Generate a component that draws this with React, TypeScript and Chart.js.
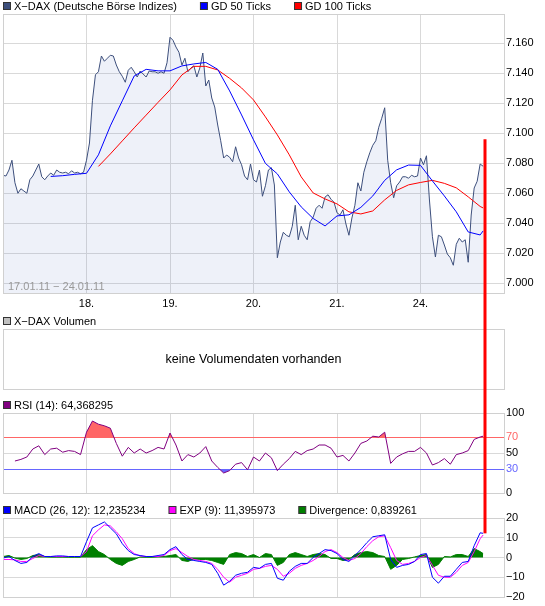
import React, { useEffect, useRef } from 'react';
import { Chart, registerables } from 'chart.js';

Chart.register(...registerables);

// ---------------- data ----------------
const TICKS_PER_DAY = 28;
const LAST_TICK = 161;
const DAY_COUNT = 6;
const dayGridValues = [0, 1, 2, 3, 4, 5, 6];
const dayTickLabels = ['', '18.', '19.', '20.', '21.', '24.', ''];
const dateRange = '17.01.11 \u2212 24.01.11';

const priceLegend = ['X\u2212DAX (Deutsche Börse Indizes)', 'GD 50 Ticks', 'GD 100 Ticks'];
const volumeLegend = 'X\u2212DAX Volumen';
const noVolumeText = 'keine Volumendaten vorhanden';
const rsiLegend = 'RSI (14): 64,368295';
const macdLegend = ['MACD (26, 12): 12,235234', 'EXP (9): 11,395973', 'Divergence: 0,839261'];

const priceTickValues = [7000, 7020, 7040, 7060, 7080, 7100, 7120, 7140, 7160];
const rsiTickValues = [0, 30, 50, 70, 100];
const RSI_HIGH = 70;
const RSI_LOW = 30;
const macdTickValues = [-20, -10, 0, 10, 20];
const PRICE_MIN = 6993.5;
const PRICE_MAX = 7179.5;
const MARKER_PRICE = 7096;

// one value per tick, ticks 0..161
const priceValues = [
  7072, 7071.5, 7075.5, 7082, 7067, 7060, 7063, 7061.5, 7060, 7069,
  7071.5, 7075.5, 7079.5, 7071, 7069, 7071.5, 7073.5, 7072, 7075.5, 7074,
  7073.5, 7074, 7073, 7075, 7073.5, 7074, 7073, 7074, 7082, 7093.5,
  7122, 7139, 7141, 7151.5, 7148, 7150, 7152, 7151.5, 7145.5, 7141,
  7138, 7134, 7142, 7144, 7141, 7137.5, 7141.5, 7139.5, 7137.5, 7141.5,
  7141, 7141, 7140, 7141, 7140, 7147, 7164, 7162, 7157.5, 7154,
  7145.5, 7150, 7141, 7143.5, 7145, 7137.5, 7143.5, 7153.5, 7131.5, 7135.5,
  7123.5, 7117.5, 7105.5, 7095, 7083.5, 7085.5, 7084, 7081, 7091, 7083.5,
  7079, 7071.5, 7069, 7079.5, 7069, 7067.5, 7075.5, 7058, 7065, 7075.5,
  7077, 7065.5, 7017, 7027.5, 7034, 7032, 7031, 7038, 7052, 7029,
  7038, 7032, 7029, 7041, 7044, 7050, 7052, 7050, 7057.5, 7059,
  7056, 7054, 7047, 7045.5, 7049, 7039.5, 7032, 7043.5, 7052, 7067,
  7061.5, 7074, 7081, 7087, 7092, 7095, 7104, 7110, 7117, 7082,
  7067, 7057, 7065, 7067.5, 7071, 7071, 7070, 7072, 7071, 7071.5,
  7083.5, 7079, 7085, 7055.5, 7031, 7017.5, 7032, 7031, 7025.5, 7019.5,
  7017, 7012, 7026, 7030, 7027.5, 7029, 7014, 7045.5, 7063.5, 7068,
  7079.5, 7078,
];

// ticks 16,20,...,160,161
const gd50Values = [
  7071.2, 7071.7, 7072.6, 7073.3, 7085.6, 7104.9, 7121.6, 7138.2, 7142.6, 7141.6,
  7141.6, 7144.9, 7146.2, 7147.2, 7142.6, 7128.2, 7112.2, 7095.6, 7079.9, 7072.9,
  7060.9, 7050.9, 7043.2, 7038.2, 7044.9, 7045.6, 7050.6, 7058.2, 7068.6, 7075.6,
  7078.8, 7078.6, 7068.2, 7058.2, 7047.6, 7034.2, 7032.2, 7034.9,
];

// ticks 32,36,...,160,161
const gd100Values = [
  7077.9, 7086.2, 7094.9, 7103.6, 7112.1, 7120.6, 7128.9, 7138.9, 7144.6, 7144.6,
  7142.2, 7136.6, 7130.2, 7122.2, 7110.9, 7098.9, 7085.6, 7070.9, 7060.2, 7056.2,
  7052.9, 7047.6, 7046.2, 7048.2, 7055.6, 7061.9, 7065.6, 7067.2, 7068.6, 7066.6,
  7063.6, 7057.6, 7051.2, 7050.2,
];

// ticks 4,6,...,160,161
const rsiValues = [
  40, 42, 45, 55, 59, 48, 55, 56, 51, 53,
  52, 48, 76, 90, 86, 84, 81, 62, 46, 57,
  50, 55, 50, 53, 57, 55, 75, 60, 40, 48,
  45, 50, 58, 40, 32, 25, 28, 36, 38, 29,
  45, 40, 50, 44, 28, 36, 43, 52, 48, 53,
  55, 60, 60, 56, 45, 47, 40, 50, 62, 65,
  71, 70, 76, 37, 45, 49, 52, 52, 57, 50,
  35, 38, 43, 36, 48, 50, 53, 67, 70, 71,
];

// ticks 0,2,...,160,161
const macdValues = [
  -0.3, 0.5, -1.5, -3, -2.5, 0.5, 2, 0.5, 0.5, 0.8,
  0.8, 0.5, 0.5, 0.5, 8, 15, 16.5, 18, 15, 12,
  7, 3.5, 1.5, 1, 0.5, 0.5, 1, 1.5, 4, 5.5,
  1.5, -1, -1.5, -2, -2.5, -3.5, -8, -14, -12, -9,
  -8, -7.5, -5, -5.5, -3.5, -3, -10.5, -11.5, -7, -4.5,
  -3, -3, 0, 2, 4, 3.5, 2, -1, -2, 1,
  4, 7.5, 10.5, 11, 11.5, -1, -5, -4, -3.5, -2,
  1.5, 2, -10, -13, -9.5, -9.5, -6, -2.5, -2, 6,
  12.5, 12.235234,
];
const expValues = [
  -1, -1, -1.2, -2, -2, -0.5, 1, 0.5, 0.5, 0.5,
  0.5, 0.5, 0.5, 0.5, 3, 11, 14, 16.5, 16, 13,
  9.5, 4.5, 2, 0.8, 0.5, 0.5, 0.5, 1, 3.5, 4.5,
  2.5, 0.5, -1, -1.5, -2, -3, -6, -10, -12.5, -10,
  -9, -8, -6, -5.5, -4.5, -4, -6, -9.5, -8, -5.5,
  -4, -3, -1.5, 0.5, 3, 4, 2.5, 0, -1.5, -0.5,
  2, 5.5, 8.5, 10.5, 11, 5, -1.5, -3.5, -3, -2,
  0, 1, -4, -9, -10, -10, -7.5, -4, -2.5, 3,
  9.5, 11.395973,
];
const divergenceValues = [
  0.5, 1, -0.3, -1, -0.5, 1, 1.5, 0.5, 0.3, 0.3,
  0.3, 0.2, 0.2, 0.2, 4, 6, 3, 1.5, -1, -3,
  -4, -2, -1, 0.3, 0.2, 0.2, 0.5, 0.5, 1, 1.5,
  -1.5, -2, -0.8, -1, -1, -1.5, -2.5, -3.5, 1.5, 2.5,
  2, 0.5, 1.5, 0, 2, 1.5, -4, -2.5, 1.5, 2.5,
  1.5, 0.5, 1.5, 2, 1.5, -0.5, -0.5, -1.5, -1, 1.5,
  2.5, 3, 2.5, 1, 0.5, -6, -4, -1, -0.5, 0.3,
  1, 1.5, -5, -3.5, 0.5, 0.3, 1.5, 1.5, 0.5, 4.5,
  3, 2,
];

// ---------------- style ----------------
const FONT = 'Liberation Sans';
const GRID = '#d9d9d9';
const FRAME = '#d0d0d0';
const C_PRICE = '#3d4f7c';
const C_PRICE_FILL = 'rgba(113,138,205,0.12)';
const C_GD50 = '#0000ff';
const C_GD100 = '#ff0000';
const C_RSI = '#800080';
const C_HIGH = '#ff6666';
const C_LOW = '#6666ff';
const C_MACD = '#0000ff';
const C_EXP = '#ff00ff';
const C_DIV = '#007f00';
const C_VOL = '#c0c0c0';
const C_MARKER = '#ff0000';
const W = 545;
const AXIS_W = 41;

Chart.defaults.font.family = FONT;
Chart.defaults.font.size = 11;
Chart.defaults.color = '#000';

// ---------------- helpers ----------------
const dayOf = (tick: number) => tick / TICKS_PER_DAY;
const ticksFrom = (start: number, step: number) => {
  const a: number[] = [];
  for (let t = start; t < LAST_TICK; t += step) a.push(t);
  a.push(LAST_TICK);
  return a;
};
const toPoints = (ticks: number[], values: number[]) =>
  values.map((v, i) => ({ x: dayOf(ticks[i]), y: v }));

const deFormat = (v: number) => {
  const s = String(Math.round(v));
  return s.length > 3 ? s.slice(0, -3) + '.' + s.slice(-3) : s;
};
const minusFormat = (v: number) => (v < 0 ? '\u2212' + Math.abs(v) : String(v));

type LegendItem = { text: string; color: string };

function drawLegend(ctx: CanvasRenderingContext2D, items: LegendItem[], x0: number, cy: number) {
  ctx.save();
  ctx.font = `11px "${FONT}"`;
  ctx.textBaseline = 'middle';
  let x = x0;
  for (const it of items) {
    ctx.fillStyle = it.color;
    ctx.fillRect(x + 0.5, cy - 3.5, 7, 7);
    ctx.strokeStyle = '#333';
    ctx.lineWidth = 1;
    ctx.strokeRect(x + 0.5, cy - 3.5, 7, 7);
    ctx.fillStyle = '#000';
    ctx.fillText(it.text, x + 11, cy + 0.5);
    x += 11 + ctx.measureText(it.text).width + 23;
  }
  ctx.restore();
}

function panelPlugin(cfg: {
  legend: LegendItem[];
  markerFrom?: number;
  markerTo?: number;
  levels?: { value: number; color: string }[];
  extra?: (chart: any) => void;
}) {
  return {
    id: 'panel',
    beforeDatasetsDraw(chart: any) {
      if (!cfg.levels) return;
      const { ctx, chartArea: a } = chart;
      ctx.save();
      ctx.lineWidth = 1;
      for (const lv of cfg.levels) {
        const y = Math.round(chart.scales.y.getPixelForValue(lv.value)) + 0.5;
        ctx.strokeStyle = lv.color;
        ctx.beginPath();
        ctx.moveTo(a.left, y);
        ctx.lineTo(a.right, y);
        ctx.stroke();
      }
      ctx.restore();
    },
    afterDatasetsDraw(chart: any) {
      const { ctx, chartArea: a } = chart;
      ctx.save();
      ctx.strokeStyle = FRAME;
      ctx.lineWidth = 1;
      const l = Math.round(a.left), t = Math.round(a.top);
      const r = Math.round(a.right), b = Math.round(a.bottom);
      ctx.strokeRect(l + 0.5, t + 0.5, r - l, b - t);
      ctx.restore();
    },
    afterDraw(chart: any) {
      const { ctx, chartArea: a } = chart;
      drawLegend(ctx, cfg.legend, Math.round(a.left), Math.round(a.top) - 8);
      if (cfg.extra) cfg.extra(chart);
      const x = chart.scales.x.getPixelForValue(dayOf(LAST_TICK));
      const y0 = cfg.markerFrom !== undefined ? chart.scales.y.getPixelForValue(cfg.markerFrom) : 0;
      const y1 = cfg.markerTo !== undefined ? chart.scales.y.getPixelForValue(cfg.markerTo) : chart.height;
      ctx.save();
      ctx.fillStyle = C_MARKER;
      ctx.fillRect(Math.round(x) + 0.5, y0, 3, y1 - y0);
      ctx.restore();
    },
  };
}

const xAxis = (labels: boolean, height: number) => ({
  type: 'linear',
  min: 0,
  max: DAY_COUNT,
  afterBuildTicks: (s: any) => {
    s.ticks = dayGridValues.map((v) => ({ value: v }));
  },
  ticks: {
    display: labels,
    padding: 4,
    maxRotation: 0,
    autoSkip: false,
    color: '#000',
    callback: (v: any) => dayTickLabels[v] ?? '',
  },
  grid: { color: GRID, drawTicks: false },
  border: { display: false },
  afterFit: (s: any) => {
    s.height = height;
    s.paddingLeft = 0;
    s.paddingRight = 0;
  },
});

const yAxis = (
  min: number,
  max: number,
  tickValues: number[],
  fmt: (v: number) => string,
  tickColor: any = '#000',
  gridColor: any = GRID,
) => ({
  type: 'linear',
  position: 'right',
  min,
  max,
  afterBuildTicks: (s: any) => {
    s.ticks = tickValues.map((v) => ({ value: v }));
  },
  ticks: { padding: 2, crossAlign: 'near', autoSkip: false, callback: (v: any) => fmt(v), color: tickColor },
  grid: { color: gridColor, drawTicks: false },
  border: { display: false },
  afterFit: (s: any) => {
    s.width = AXIS_W;
    s.paddingTop = 0;
    s.paddingBottom = 0;
  },
});

const baseOptions = (padding: any) => ({
  responsive: false,
  maintainAspectRatio: false,
  animation: false,
  devicePixelRatio: 1,
  events: [],
  layout: { padding },
  plugins: { legend: { display: false }, tooltip: { enabled: false } },
  elements: { point: { radius: 0 }, line: { tension: 0, borderWidth: 1 } },
});

export default function App() {
  const priceRef = useRef<HTMLCanvasElement>(null);
  const volRef = useRef<HTMLCanvasElement>(null);
  const rsiRef = useRef<HTMLCanvasElement>(null);
  const macdRef = useRef<HTMLCanvasElement>(null);

  useEffect(() => {
    const charts: Chart[] = [];
    const pricePts = priceValues.map((v, i) => ({ x: dayOf(i), y: v }));

    charts.push(
      new Chart(priceRef.current as HTMLCanvasElement, {
        type: 'line',
        data: {
          datasets: [
            { label: priceLegend[1], data: toPoints(ticksFrom(16, 4), gd50Values), borderColor: C_GD50, borderWidth: 1, fill: false, order: 1 },
            { label: priceLegend[2], data: toPoints(ticksFrom(32, 4), gd100Values), borderColor: C_GD100, borderWidth: 1, fill: false, order: 2 },
            { label: priceLegend[0], data: pricePts, borderColor: C_PRICE, borderWidth: 1, backgroundColor: C_PRICE_FILL, fill: 'start', order: 3 },
          ],
        },
        options: {
          ...baseOptions({ left: 3, right: 0, top: 14, bottom: 0 }),
          scales: {
            x: xAxis(true, 19),
            y: yAxis(PRICE_MIN, PRICE_MAX, priceTickValues, deFormat),
          },
        } as any,
        plugins: [
          panelPlugin({
            legend: [
              { text: priceLegend[0], color: C_PRICE },
              { text: priceLegend[1], color: C_GD50 },
              { text: priceLegend[2], color: C_GD100 },
            ],
            markerFrom: MARKER_PRICE,
            extra: (chart: any) => {
              const { ctx, chartArea: a } = chart;
              ctx.save();
              ctx.font = `11px "${FONT}"`;
              ctx.fillStyle = '#999999';
              ctx.textBaseline = 'middle';
              ctx.fillText(dateRange, a.left + 5, a.bottom - 6);
              ctx.restore();
            },
          }),
        ] as any,
      } as any),
    );

    charts.push(
      new Chart(volRef.current as HTMLCanvasElement, {
        type: 'line',
        data: { datasets: [] },
        options: {
          ...baseOptions({ left: 3, right: AXIS_W, top: 17, bottom: 6 }),
          scales: {
            x: { type: 'linear', min: 0, max: DAY_COUNT, display: false },
            y: { type: 'linear', min: 0, max: 1, display: false },
          },
        } as any,
        plugins: [
          panelPlugin({
            legend: [{ text: volumeLegend, color: C_VOL }],
            extra: (chart: any) => {
              const { ctx, chartArea: a } = chart;
              ctx.save();
              ctx.font = `12.5px "${FONT}"`;
              ctx.fillStyle = '#000';
              ctx.textAlign = 'center';
              ctx.textBaseline = 'middle';
              ctx.fillText(noVolumeText, (a.left + a.right) / 2, (a.top + a.bottom) / 2 + 0.5);
              ctx.restore();
            },
          }),
        ] as any,
      } as any),
    );

    const rsiPts = toPoints(ticksFrom(4, 2), rsiValues);
    const isLevel = (v: number) => v === RSI_HIGH || v === RSI_LOW;
    charts.push(
      new Chart(rsiRef.current as HTMLCanvasElement, {
        type: 'line',
        data: {
          datasets: [
            { data: rsiPts, borderColor: 'transparent', borderWidth: 0, fill: { target: { value: RSI_HIGH }, above: C_HIGH, below: 'transparent' }, order: 2 },
            { data: rsiPts, borderColor: 'transparent', borderWidth: 0, fill: { target: { value: RSI_LOW }, above: 'transparent', below: C_LOW }, order: 3 },
            { label: rsiLegend, data: rsiPts, borderColor: C_RSI, borderWidth: 1, fill: false, order: 1 },
          ],
        },
        options: {
          ...baseOptions({ left: 3, right: 0, top: 18, bottom: 0 }),
          scales: {
            x: xAxis(false, 7),
            y: yAxis(
              0,
              100,
              rsiTickValues,
              (v) => String(v),
              (c: any) => (c.tick?.value === RSI_HIGH ? C_HIGH : c.tick?.value === RSI_LOW ? C_LOW : '#000'),
              (c: any) => (isLevel(c.tick?.value) ? 'rgba(0,0,0,0)' : GRID),
            ),
          },
        } as any,
        plugins: [
          panelPlugin({
            legend: [{ text: rsiLegend, color: C_RSI }],
            levels: [
              { value: RSI_HIGH, color: C_HIGH },
              { value: RSI_LOW, color: C_LOW },
            ],
          }),
        ] as any,
      } as any),
    );

    const macdTicks = ticksFrom(0, 2);
    charts.push(
      new Chart(macdRef.current as HTMLCanvasElement, {
        type: 'line',
        data: {
          datasets: [
            { label: macdLegend[2], data: toPoints(macdTicks, divergenceValues), borderColor: C_DIV, borderWidth: 1, backgroundColor: C_DIV, fill: 'origin', order: 3 },
            { label: macdLegend[1], data: toPoints(macdTicks, expValues), borderColor: C_EXP, borderWidth: 1, fill: false, order: 2 },
            { label: macdLegend[0], data: toPoints(macdTicks, macdValues), borderColor: C_MACD, borderWidth: 1, fill: false, order: 1 },
          ],
        },
        options: {
          ...baseOptions({ left: 3, right: 0, top: 18, bottom: 0 }),
          scales: {
            x: xAxis(false, 9),
            y: yAxis(-20, 20, macdTickValues, minusFormat),
          },
        } as any,
        plugins: [
          panelPlugin({
            legend: [
              { text: macdLegend[0], color: C_MACD },
              { text: macdLegend[1], color: C_EXP },
              { text: macdLegend[2], color: C_DIV },
            ],
            markerTo: macdValues[macdValues.length - 1],
          }),
        ] as any,
      } as any),
    );

    return () => charts.forEach((c) => c.destroy());
  }, []);

  const cv = (top: number, h: number): React.CSSProperties => ({
    position: 'absolute',
    left: 0,
    top,
    width: W,
    height: h,
    display: 'block',
  });

  return (
    <div style={{ position: 'absolute', left: 0, top: 0, width: W, height: 606, background: '#fff' }}>
      <canvas ref={priceRef} width={W} height={312} style={cv(0, 312)} />
      <canvas ref={volRef} width={W} height={83} style={cv(312, 83)} />
      <canvas ref={rsiRef} width={W} height={105} style={cv(395, 105)} />
      <canvas ref={macdRef} width={W} height={106} style={cv(500, 106)} />
    </div>
  );
}
